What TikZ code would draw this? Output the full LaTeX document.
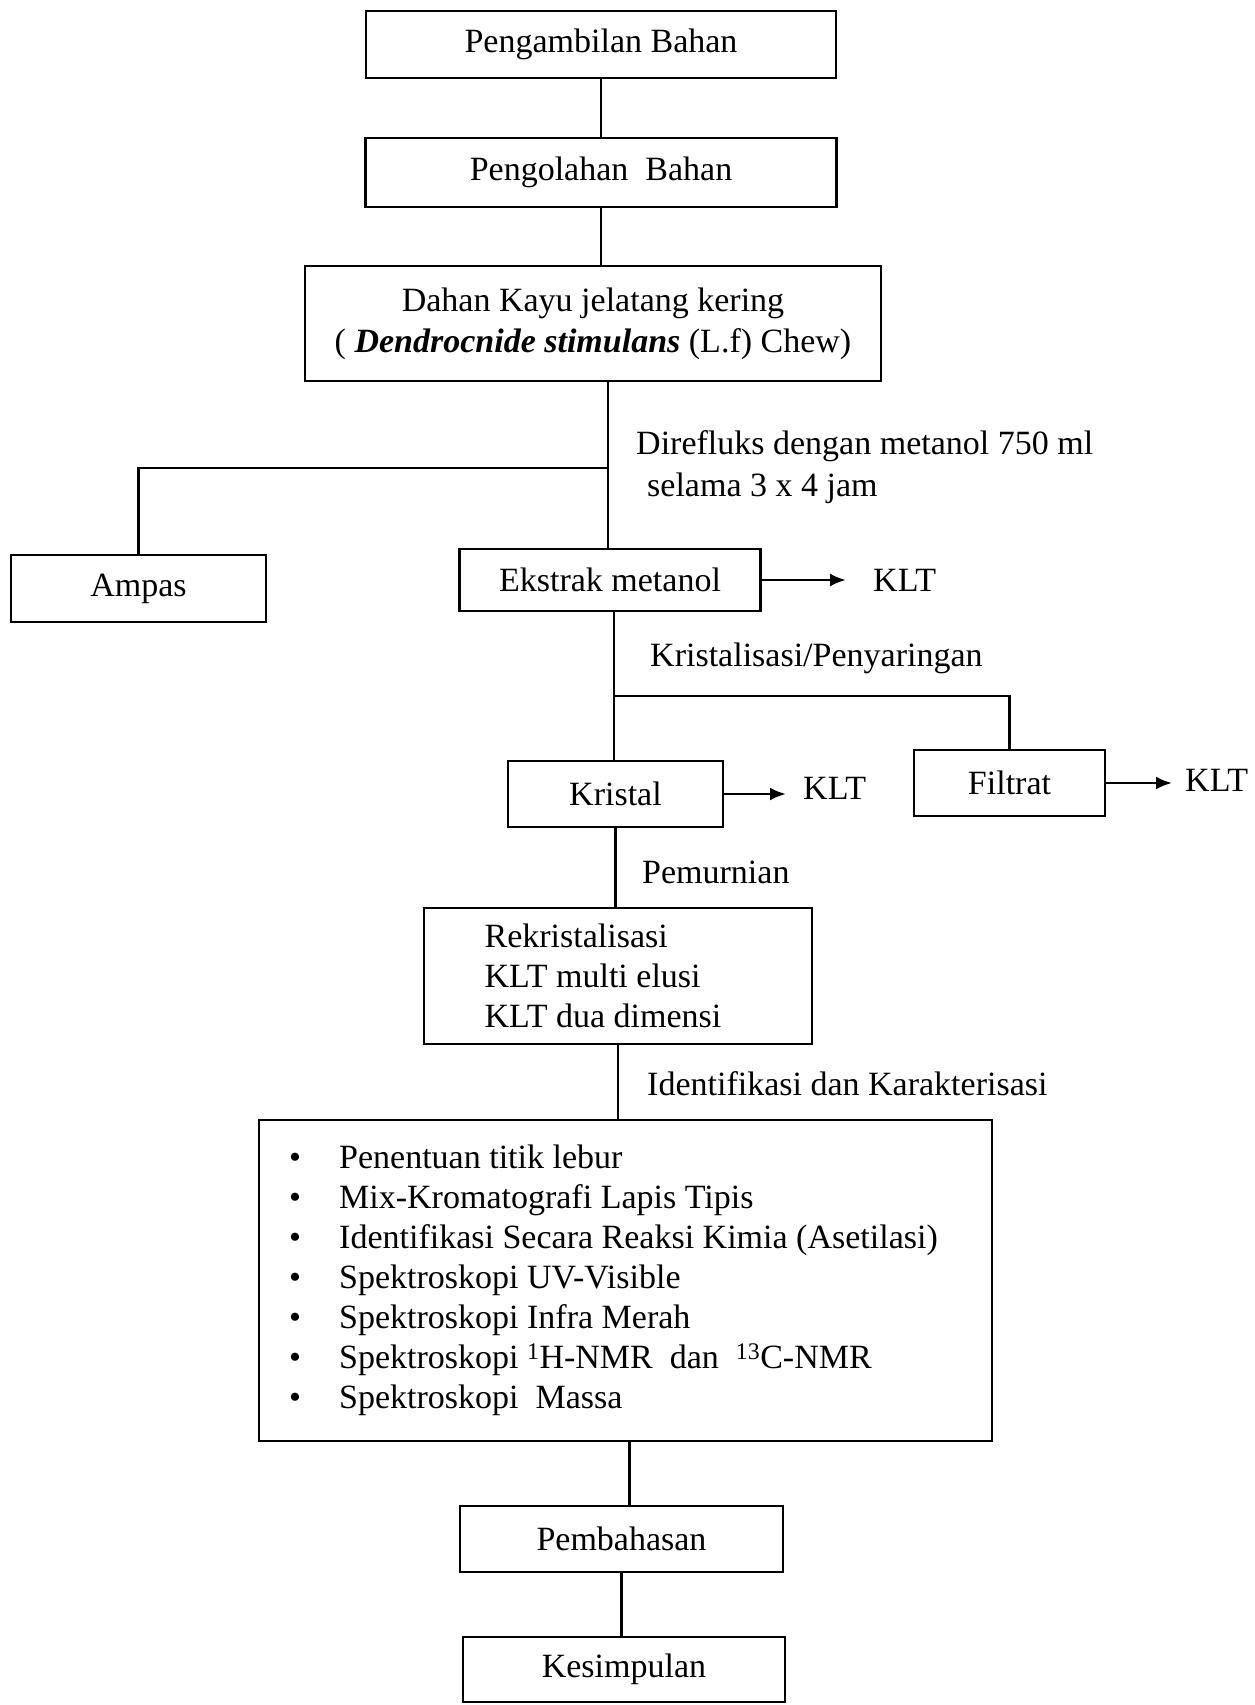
\documentclass[tikz,border=0pt]{standalone}
\usepackage{fontspec}
\setmainfont{Liberation Serif}
\usetikzlibrary{arrows.meta}
\newcommand\fsz{\fontsize{34}{40}\selectfont}
\begin{document}
\begin{tikzpicture}[x=1pt,y=-1pt,
  box/.style={draw, line width=2.8pt, inner sep=0pt, align=center, font=\fsz},
  lbl/.style={inner sep=0pt, font=\fsz, align=left},
  conn/.style={line width=2.8pt},
  arr/.style={line width=2.6pt, -{Latex[length=16pt,width=13pt]}}]
\useasboundingbox[fill=white] (0,0) rectangle (1255,1705);

\node[box, minimum width=470pt, minimum height=67pt] (b1) at (601,44.5) {Pengambilan Bahan};
\node[box, minimum width=471pt, minimum height=69pt] (b2) at (601,172.5) {Pengolahan\ \ Bahan};
\node[box, minimum width=576pt, minimum height=115pt] (b3) at (593,323.5)
  {Dahan Kayu jelatang kering\\[1pt]( \textbf{\textit{Dendrocnide stimulans}} (L.f) Chew)};
\node[box, minimum width=255pt, minimum height=67pt] (ampas) at (138.5,588.5) {Ampas};
\node[box, minimum width=301pt, minimum height=62pt] (ekstrak) at (610,580) {Ekstrak metanol};
\node[box, minimum width=215pt, minimum height=66pt] (kristal) at (615.5,794) {Kristal};
\node[box, minimum width=191pt, minimum height=66pt] (filtrat) at (1009.5,783) {Filtrat};
\node[box, minimum width=388pt, minimum height=136pt, align=left] (rekr) at (618,976)
  {Rekristalisasi\\KLT multi elusi\\KLT dua dimensi\hspace*{30pt}};
\node[box, minimum width=733pt, minimum height=321pt, align=left] (big) at (625.5,1280.5)
  {\makebox[50pt][l]{\textbullet}Penentuan titik lebur\\
   \makebox[50pt][l]{\textbullet}Mix-Kromatografi Lapis Tipis\\
   \makebox[50pt][l]{\textbullet}Identifikasi Secara Reaksi Kimia (Asetilasi)\makebox[24pt]{}\\
   \makebox[50pt][l]{\textbullet}Spektroskopi UV-Visible\\
   \makebox[50pt][l]{\textbullet}Spektroskopi Infra Merah\\
   \makebox[50pt][l]{\textbullet}Spektroskopi \textsuperscript{1}H-NMR\ \ dan\ \ \textsuperscript{13}C-NMR\\
   \makebox[50pt][l]{\textbullet}Spektroskopi\ \ Massa};
\node[box, minimum width=323pt, minimum height=66pt] (pemb) at (621.5,1539) {Pembahasan};
\node[box, minimum width=322pt, minimum height=65pt] (kesim) at (624,1669.5) {Kesimpulan};

\node[lbl, anchor=west] (klt1) at (873,580) {KLT};
\node[lbl, anchor=west] (klt2) at (803,788) {KLT};
\node[lbl, anchor=west] (klt3) at (1185,780) {KLT};

\node[lbl, anchor=west] (l1) at (636,467) {Direfluks dengan metanol 750 ml\\[2pt]\hspace{11pt}selama 3 x 4 jam};
\node[lbl, anchor=west] (l2) at (650,658) {Kristalisasi/Penyaringan};
\node[lbl, anchor=west] (l3) at (642,872) {Pemurnian};
\node[lbl, anchor=west] (l4) at (647,1084) {Identifikasi dan Karakterisasi};

\coordinate (j1) at (608,468);
\coordinate (j2) at (614,696);

\draw[conn] (b1.south) -- (b1.south |- b2.north);
\draw[conn] (b2.south) -- (b2.south |- b3.north);
\draw[conn] (j1 |- b3.south) -- (j1 |- ekstrak.north);
\draw[conn] (j1) -| (ampas.north);
\draw[conn] (j2 |- ekstrak.south) -- (j2 |- kristal.north);
\draw[conn] (j2) -| (filtrat.north);
\draw[conn] (kristal.south) -- (kristal.south |- rekr.north);
\draw[conn] (rekr.south) -- (rekr.south |- big.north);
\draw[conn] ([xshift=8pt]pemb.north |- big.south) -- ([xshift=8pt]pemb.north);
\draw[conn] (pemb.south) -- (pemb.south |- kesim.north);

\draw[arr] (ekstrak.east) -- ([xshift=-27pt]ekstrak.east -| klt1.west);
\draw[arr] (kristal.east) -- ([xshift=-17pt]kristal.east -| klt2.west);
\draw[arr] (filtrat.east) -- ([xshift=-13pt]filtrat.east -| klt3.west);
\end{tikzpicture}
\end{document}
